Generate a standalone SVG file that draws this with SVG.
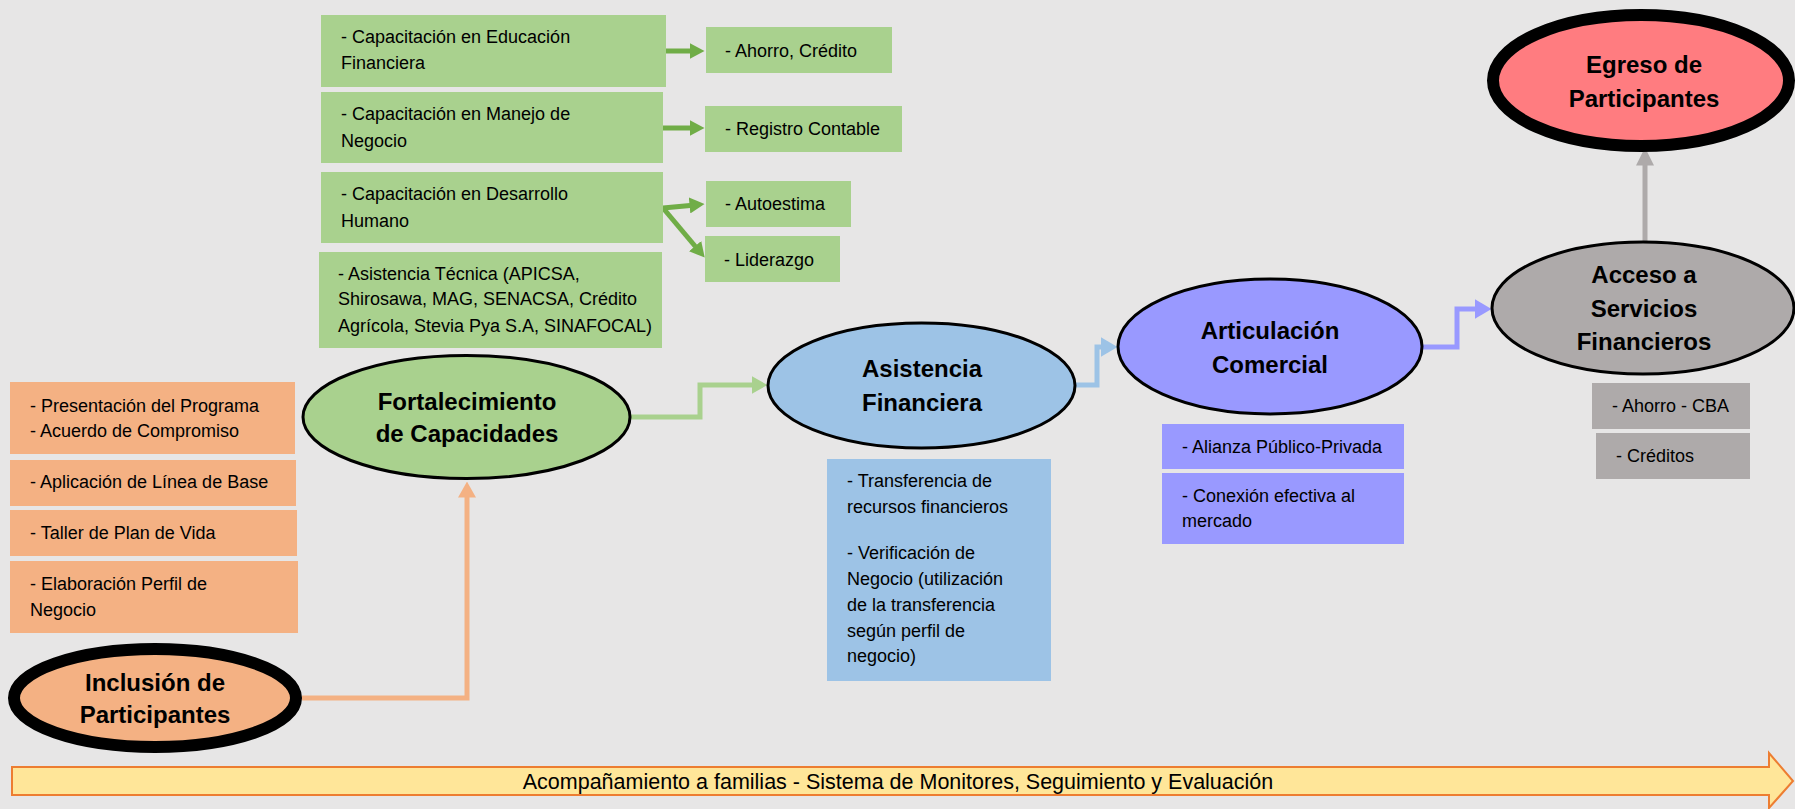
<svg xmlns="http://www.w3.org/2000/svg" width="1795" height="809" viewBox="0 0 1795 809">
<style>
.t{font-family:"Liberation Sans",Arial,sans-serif;font-size:18px;fill:#000}
.h{font-family:"Liberation Sans",Arial,sans-serif;font-size:24px;font-weight:bold;fill:#000;text-anchor:middle}
.or{fill:#F4B183}.gr{fill:#A9D18E}.bl{fill:#9DC3E6}.pu{fill:#9999FF}.gy{fill:#AEAAAA}.rd{fill:#FF7C80}
.thin{stroke:#000;stroke-width:3}
.thick{stroke:#000;stroke-width:12}
.c{fill:none;stroke-width:5;stroke-linejoin:miter}
</style>
<defs>
<marker id="mG" viewBox="0 0 15 16" refX="0.5" refY="8" markerWidth="15" markerHeight="16" markerUnits="userSpaceOnUse" orient="auto"><path d="M0,0 L15,8 L0,16 z" fill="#70AD47"/></marker>
<marker id="mOr" viewBox="0 0 16 18" refX="0.5" refY="9" markerWidth="16" markerHeight="18" markerUnits="userSpaceOnUse" orient="auto"><path d="M0,0 L16,9 L0,18 z" fill="#F4B183"/></marker>
<marker id="mGr" viewBox="0 0 16 18" refX="0.5" refY="9" markerWidth="16" markerHeight="18" markerUnits="userSpaceOnUse" orient="auto"><path d="M0,0 L16,9 L0,18 z" fill="#A9D18E"/></marker>
<marker id="mBl" viewBox="0 0 17 20" refX="0.5" refY="10" markerWidth="17" markerHeight="20" markerUnits="userSpaceOnUse" orient="auto"><path d="M0,0 L17,10 L0,20 z" fill="#9DC3E6"/></marker>
<marker id="mPu" viewBox="0 0 17 20" refX="0.5" refY="10" markerWidth="17" markerHeight="20" markerUnits="userSpaceOnUse" orient="auto"><path d="M0,0 L17,10 L0,20 z" fill="#9999FF"/></marker>
<marker id="mGy" viewBox="0 0 18 18" refX="0.5" refY="9" markerWidth="18" markerHeight="18" markerUnits="userSpaceOnUse" orient="auto"><path d="M0,0 L18,9 L0,18 z" fill="#AEAAAA"/></marker>
</defs>
<rect x="0" y="0" width="1795" height="809" fill="#E7E6E6"/>

<g id="connectors">
<path class="c" d="M302,698 H467 V497" stroke="#F4B183" marker-end="url(#mOr)"/>
<path class="c" d="M630,417 H700 V385 H752" stroke="#A9D18E" marker-end="url(#mGr)"/>
<path class="c" d="M1075,385 H1097 V347 H1101" stroke="#9DC3E6" marker-end="url(#mBl)"/>
<path class="c" d="M1422,347 H1457 V309 H1475" stroke="#9999FF" marker-end="url(#mPu)"/>
<path class="c" d="M1645,242 V165" stroke="#AEAAAA" stroke-width="6" marker-end="url(#mGy)"/>
<path class="c" d="M666,51 H690" stroke="#70AD47" stroke-width="4" marker-end="url(#mG)"/>
<path class="c" d="M663,128 H690" stroke="#70AD47" stroke-width="4" marker-end="url(#mG)"/>
<path class="c" d="M663,208 L690.1,205.4" stroke="#70AD47" stroke-width="4" marker-end="url(#mG)"/>
<path class="c" d="M663,208 L695.4,246.5" stroke="#70AD47" stroke-width="4" marker-end="url(#mG)"/>
</g>

<g id="inclusion">
<ellipse class="or thick" cx="155" cy="698" rx="141" ry="49"/>
<text class="h" x="155" y="691">Inclusión de</text>
<text class="h" x="155" y="723">Participantes</text>
</g>
<g id="inclusion-items">
<rect class="or" x="10" y="382" width="285" height="72"/>
<text class="t" x="30" y="412">- Presentación del Programa</text>
<text class="t" x="30" y="437">- Acuerdo de Compromiso</text>
<rect class="or" x="10" y="460" width="286" height="46"/>
<text class="t" x="30" y="488">- Aplicación de Línea de Base</text>
<rect class="or" x="10" y="510" width="287" height="46"/>
<text class="t" x="30" y="539">- Taller de Plan de Vida</text>
<rect class="or" x="10" y="561" width="288" height="72"/>
<text class="t" x="30" y="590">- Elaboración Perfil de</text>
<text class="t" x="30" y="616">Negocio</text>
</g>

<g id="fortalecimiento">
<ellipse class="gr thin" cx="466.5" cy="417" rx="163.5" ry="61.5"/>
<text class="h" x="467" y="410">Fortalecimiento</text>
<text class="h" x="467" y="442">de Capacidades</text>
</g>
<g id="cap-educacion">
<rect class="gr" x="321" y="15" width="345" height="72"/>
<text class="t" x="341" y="43">- Capacitación en Educación</text>
<text class="t" x="341" y="69">Financiera</text>
</g>
<g id="cap-negocio">
<rect class="gr" x="321" y="92" width="342" height="71"/>
<text class="t" x="341" y="120">- Capacitación en Manejo de</text>
<text class="t" x="341" y="147">Negocio</text>
</g>
<g id="cap-humano">
<rect class="gr" x="321" y="172" width="342" height="71"/>
<text class="t" x="341" y="200">- Capacitación en Desarrollo</text>
<text class="t" x="341" y="227">Humano</text>
</g>
<g id="asistencia-tecnica">
<rect class="gr" x="319" y="252" width="343" height="96"/>
<text class="t" x="338" y="280">- Asistencia Técnica (APICSA,</text>
<text class="t" x="338" y="305">Shirosawa, MAG, SENACSA, Crédito</text>
<text class="t" x="338" y="332">Agrícola, Stevia Pya S.A, SINAFOCAL)</text>
</g>
<g id="ahorro-credito">
<rect class="gr" x="706" y="27" width="186" height="46"/>
<text class="t" x="725" y="57">- Ahorro, Crédito</text>
</g>
<g id="registro">
<rect class="gr" x="705" y="106" width="197" height="46"/>
<text class="t" x="725" y="135">- Registro Contable</text>
</g>
<g id="autoestima">
<rect class="gr" x="706" y="181" width="145" height="46"/>
<text class="t" x="725" y="210">- Autoestima</text>
</g>
<g id="liderazgo">
<rect class="gr" x="705" y="236" width="135" height="46"/>
<text class="t" x="724" y="266">- Liderazgo</text>
</g>

<g id="asistencia-financiera">
<ellipse class="bl thin" cx="921.5" cy="385.5" rx="153.5" ry="62.5"/>
<text class="h" x="922" y="377">Asistencia</text>
<text class="h" x="922" y="411">Financiera</text>
</g>
<g id="asistencia-items">
<rect class="bl" x="827" y="459" width="224" height="222"/>
<text class="t" x="847" y="487">- Transferencia de</text>
<text class="t" x="847" y="513">recursos financieros</text>
<text class="t" x="847" y="559">- Verificación de</text>
<text class="t" x="847" y="585">Negocio (utilización</text>
<text class="t" x="847" y="611">de la transferencia</text>
<text class="t" x="847" y="637">según perfil de</text>
<text class="t" x="847" y="662">negocio)</text>
</g>

<g id="articulacion">
<ellipse class="pu thin" cx="1270" cy="346.5" rx="152" ry="67.5"/>
<text class="h" x="1270" y="339">Articulación</text>
<text class="h" x="1270" y="373">Comercial</text>
</g>
<g id="alianza">
<rect class="pu" x="1162" y="424" width="242" height="45"/>
<text class="t" x="1182" y="453">- Alianza Público-Privada</text>
</g>
<g id="conexion">
<rect class="pu" x="1162" y="473" width="242" height="71"/>
<text class="t" x="1182" y="502">- Conexión efectiva al</text>
<text class="t" x="1182" y="527">mercado</text>
</g>

<g id="acceso">
<ellipse class="gy thin" cx="1643" cy="308" rx="151" ry="66"/>
<text class="h" x="1644" y="283">Acceso a</text>
<text class="h" x="1644" y="317">Servicios</text>
<text class="h" x="1644" y="350">Financieros</text>
</g>
<g id="ahorro-cba">
<rect class="gy" x="1592" y="383" width="158" height="46"/>
<text class="t" x="1612" y="412">- Ahorro - CBA</text>
</g>
<g id="creditos">
<rect class="gy" x="1596" y="433" width="154" height="46"/>
<text class="t" x="1616" y="462">- Créditos</text>
</g>

<g id="egreso">
<ellipse class="rd thick" cx="1641" cy="80.5" rx="148" ry="65.5"/>
<text class="h" x="1644" y="73">Egreso de</text>
<text class="h" x="1644" y="107">Participantes</text>
</g>

<g id="acompanamiento">
<path d="M12,767 H1769 V753 L1793,781 L1769,808 V795 H12 Z" fill="#FFE699" stroke="#ED7D31" stroke-width="2"/>
<text class="t" x="898" y="789" text-anchor="middle" style="font-size:21.5px">Acompañamiento a familias - Sistema de Monitores, Seguimiento y Evaluación</text>
</g>
</svg>
